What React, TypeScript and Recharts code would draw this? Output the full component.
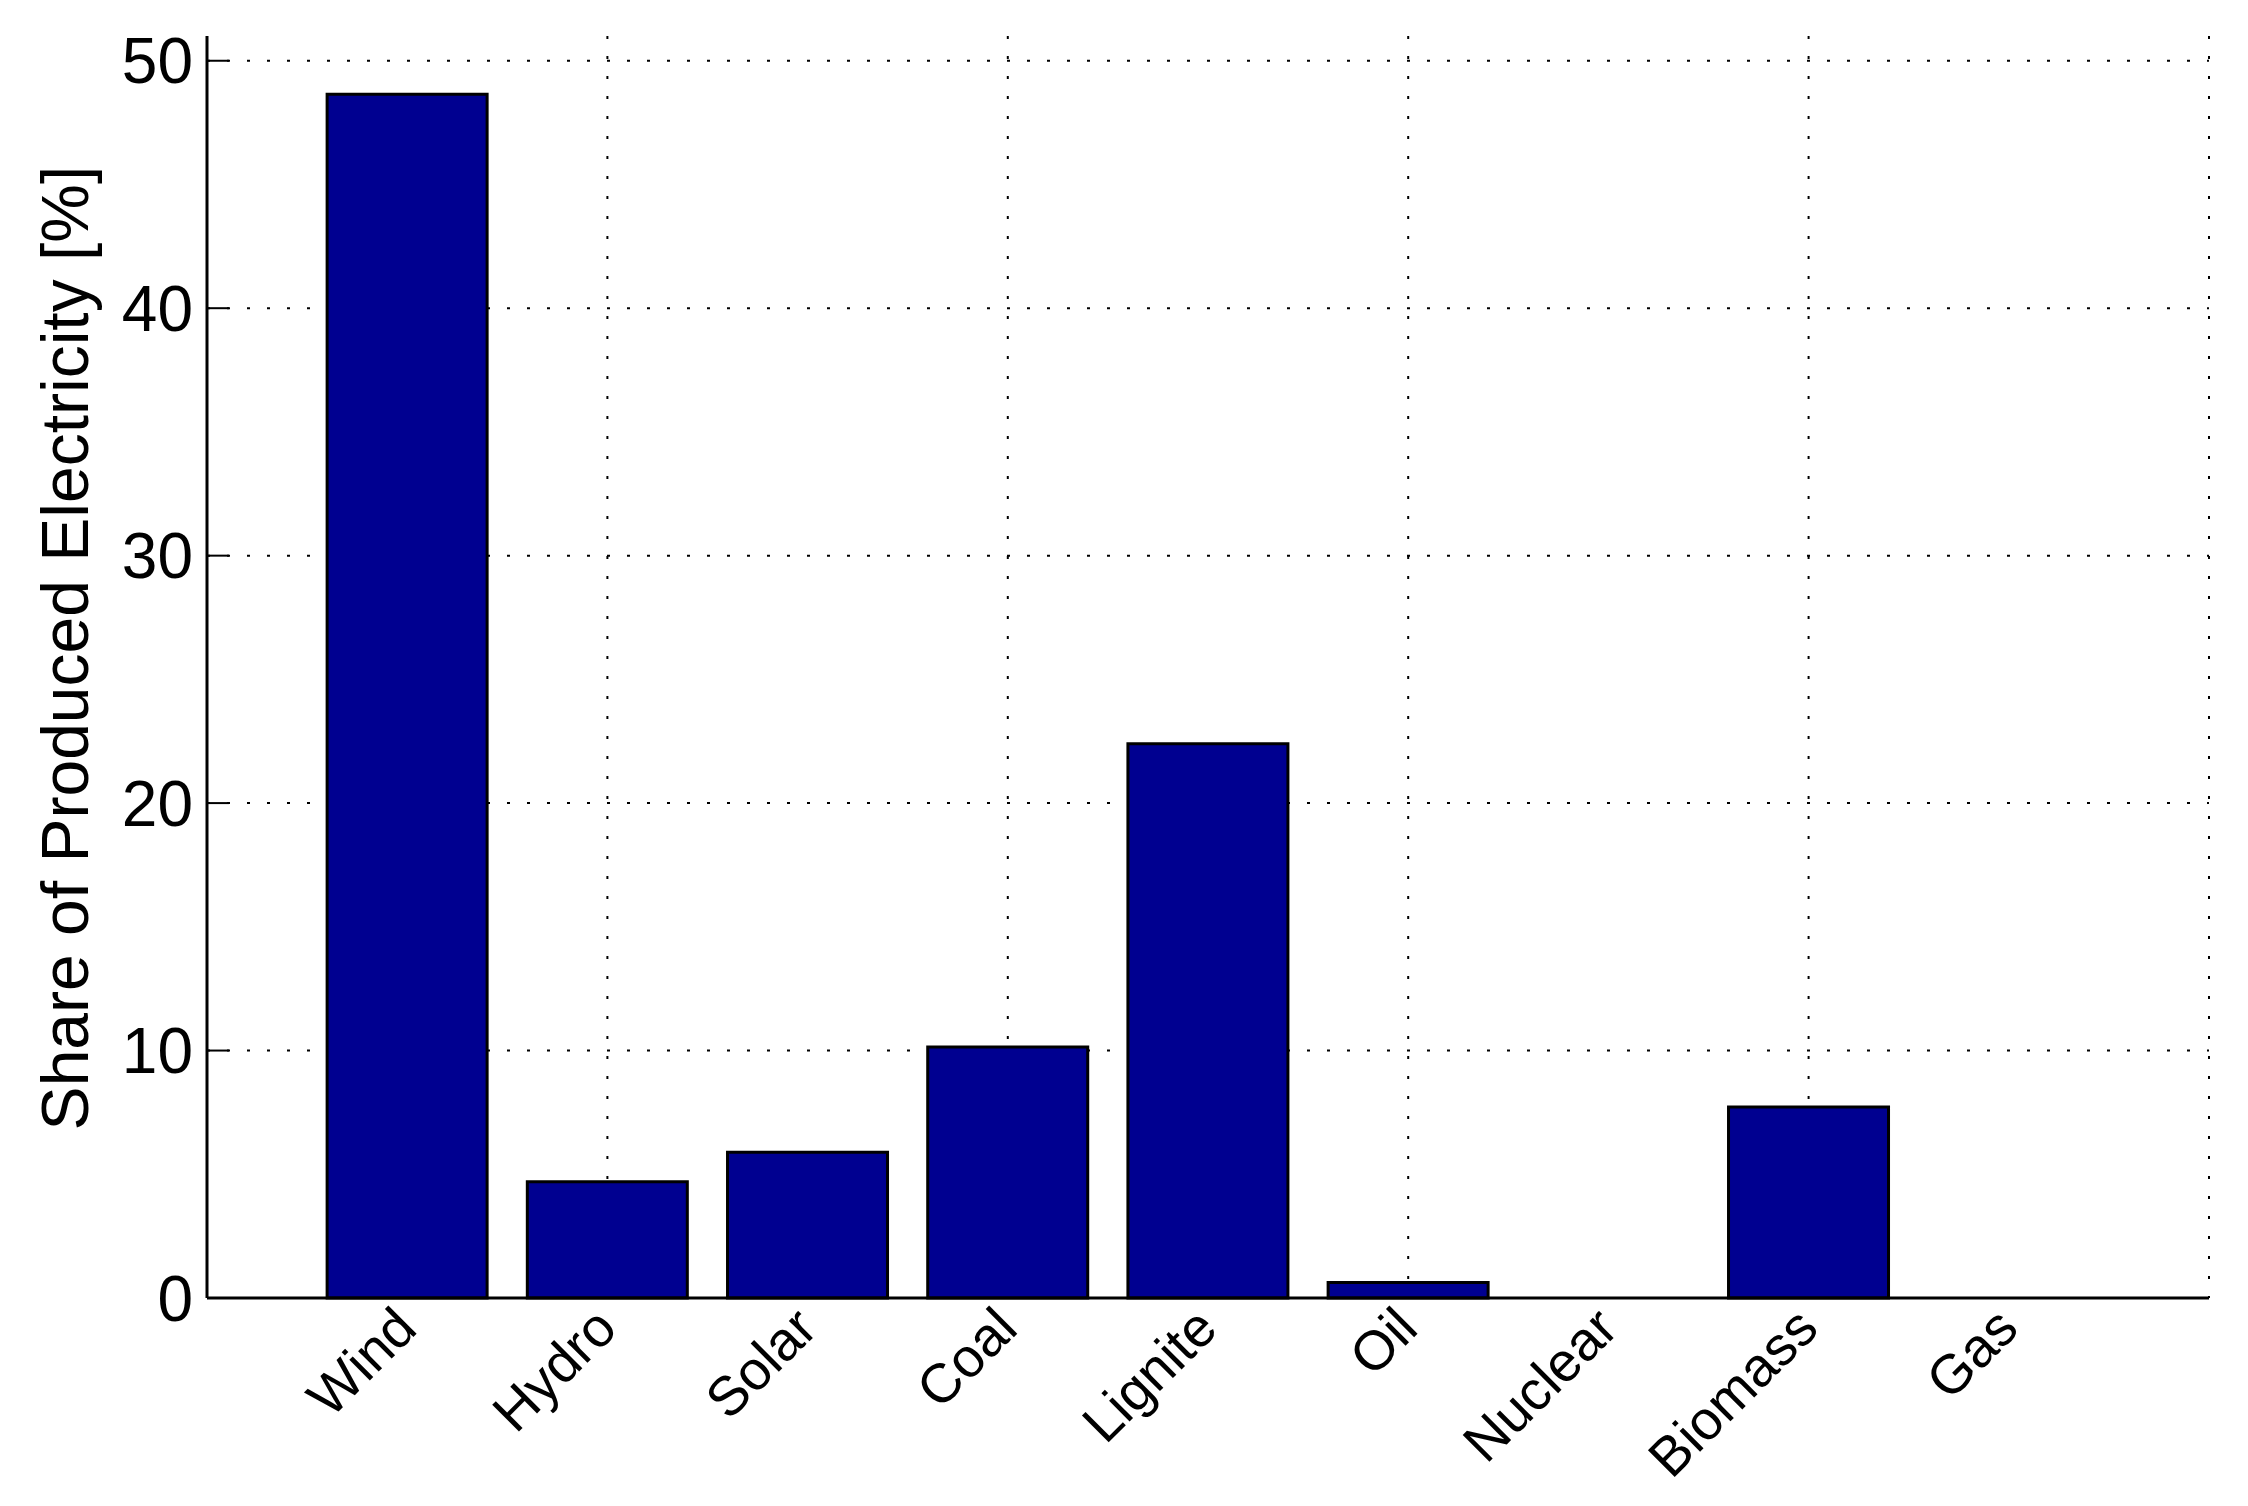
import { BarChart, Bar, XAxis, YAxis, CartesianGrid } from 'recharts';

// energy sources, in bar order
const sources = ['Wind', 'Hydro', 'Solar', 'Coal', 'Lignite', 'Oil', 'Nuclear', 'Biomass', 'Gas'];
// share of produced electricity [%]
const shares = [48.65, 4.7, 5.89, 10.14, 22.4, 0.63, 0, 7.72, 0];

const yTicks = [0, 10, 20, 30, 40, 50];
const gridX = [2, 4, 6, 8, 10];
const gridY = [10, 20, 30, 40, 50];

const chartData = sources.map((name, i) => ({ pos: i + 1, name, share: shares[i] }));

const FONT = '"Liberation Sans", Arial, Helvetica, sans-serif';

const SourceTick = (props: any) => {
  const { x, y, payload } = props;
  const label = sources[payload.value - 1] ?? '';
  const ax = x + 12;
  const ay = y + 33;
  return (
    <text
      x={ax}
      y={ay}
      transform={`rotate(-45, ${ax}, ${ay})`}
      textAnchor="end"
      fontSize={55}
      fontFamily={FONT}
      fill="#000"
    >
      {label}
    </text>
  );
};

const YTitle = (props: any) => {
  const { viewBox } = props;
  const cx = 88;
  const cy = viewBox.y + viewBox.height / 2 - 19;
  return (
    <text
      x={cx}
      y={cy}
      transform={`rotate(-90, ${cx}, ${cy})`}
      textAnchor="middle"
      fontSize={66}
      fontFamily={FONT}
      fill="#000"
    >
      Share of Produced Electricity [%]
    </text>
  );
};

export default function App() {
  return (
    <div style={{ position: 'absolute', left: 0, top: 0, background: '#fff' }}>
      <BarChart
        width={2248}
        height={1506}
        data={chartData}
        margin={{ top: 36, right: 39, left: 0, bottom: 0 }}
      >
        <CartesianGrid
          stroke="#000"
          strokeWidth={2}
          strokeDasharray="3 17"
          horizontalValues={gridY}
          verticalValues={gridX}
        />
        <XAxis
          type="number"
          dataKey="pos"
          domain={[0, 10]}
          ticks={[1, 2, 3, 4, 5, 6, 7, 8, 9]}
          interval={0}
          height={208}
          tickLine={false}
          tickSize={0}
          tickMargin={0}
          axisLine={{ stroke: '#000', strokeWidth: 3 }}
          tick={<SourceTick />}
        />
        <YAxis
          type="number"
          domain={[0, 51]}
          ticks={yTicks}
          interval={0}
          width={207}
          tickSize={-22}
          tickMargin={36}
          tickLine={{ stroke: '#000', strokeWidth: 2 }}
          axisLine={{ stroke: '#000', strokeWidth: 3 }}
          tick={{ fill: '#000', fontSize: 64, fontFamily: FONT }}
          label={<YTitle />}
        />
        <Bar
          dataKey="share"
          fill="#000090"
          stroke="#000"
          strokeWidth={3}
          isAnimationActive={false}
        />
      </BarChart>
    </div>
  );
}
